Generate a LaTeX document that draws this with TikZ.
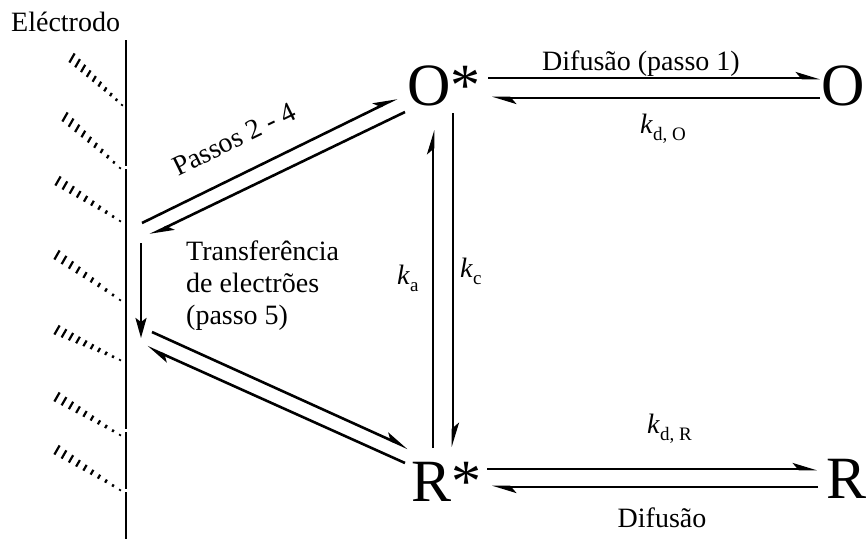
\documentclass[tikz,border=0pt]{standalone}
\usepackage{fontspec}
\setmainfont{Liberation Serif}
\usetikzlibrary{arrows.meta}
\begin{document}
\begin{tikzpicture}[x=1pt,y=-1pt,
  harp/.style={line width=2.6pt,-{Stealth[left,length=20pt,width=12pt,inset=5pt]}},
  fullarrow/.style={line width=2.6pt,-{Stealth[length=20pt,width=11pt,inset=4pt]}},
  species/.style={font=\fontsize{60}{62}\selectfont,inner sep=0pt,anchor=base west},
  lbl/.style={font=\fontsize{28}{32}\selectfont,inner sep=0pt},
  electrode/.style={line width=2pt},
  hatch/.style={line width=2.2pt}]
\fill[white] (0,0) rectangle (868,539);
\useasboundingbox (0,0) rectangle (868,539);
% species
\node[species] (Os) at (407,105) {O*};
\node[species] (O)  at (821,105) {O};
\node[species] (Rs) at (411,501) {R*};
\node[species] (R)  at (826,498) {R};
% electrode
\draw[electrode] (126,40) -- (126,166) (126,169) -- (126,429) (126,432) -- (126,489) (126,492) -- (126,539);
\foreach \sx/\sy/\ex/\ey in {72/58/122/105, 65/117/120/168, 58/181/120/221, 57/255/120/300, 57/330/120/360, 57/397/120/435, 57/450/120/490}{
  \foreach \i in {0,...,9}{
    \pgfmathsetmacro{\t}{\i/9}
    \pgfmathsetmacro{\px}{\sx+\t*(\ex-\sx)}
    \pgfmathsetmacro{\py}{\sy+\t*(\ey-\sy)}
    \pgfmathsetmacro{\L}{10.5-8.8*\t}
    \draw[hatch] ({\px-0.25*\L},{\py+0.433*\L}) -- ({\px+0.25*\L},{\py-0.433*\L});
  }
}
% connector end points
\coordinate (OsE1) at (488,78);  \coordinate (OW1) at (820,78);
\coordinate (OW2)  at (820,98);  \coordinate (OsE2) at (492,98);
\coordinate (RsE1) at (487,469); \coordinate (RW1) at (817,469);
\coordinate (RW2)  at (818,487); \coordinate (RsE2) at (492,487);
\coordinate (RsN1) at (433,448); \coordinate (OsS1) at (433,130);
\coordinate (OsS2) at (453,113); \coordinate (RsN2) at (453,447);
\coordinate (El1) at (142,223);  \coordinate (OsW1) at (397,98);
\coordinate (OsW2) at (405,112); \coordinate (El2) at (150,235);
\coordinate (El3) at (152,332);  \coordinate (RsW1) at (408,448);
\coordinate (RsW2) at (405,463); \coordinate (El4) at (147,347);
\coordinate (ElT) at (141,243);  \coordinate (ElB) at (141,338);
% arrows
\draw[harp] (OsE1) -- (OW1);
\draw[harp] (OW2) -- (OsE2);
\draw[harp] (RsE1) -- (RW1);
\draw[harp] (RW2) -- (RsE2);
\draw[harp] (RsN1) -- (OsS1);
\draw[harp] (OsS2) -- (RsN2);
\draw[harp] (El1) -- (OsW1);
\draw[harp] (OsW2) -- (El2);
\draw[harp] (El3) -- (RsW1);
\draw[harp] (RsW2) -- (El4);
\draw[fullarrow] (ElT) -- (ElB);
% labels
\node[lbl,anchor=base west] (el) at (11,31) {Eléctrodo};
\node[lbl,anchor=base] (dif1) at (641,70) {Difusão (passo 1)};
\node[lbl,anchor=base west] (kdo) at (640,133) {\textit{k}{\fontsize{19}{20}\selectfont\raisebox{-7pt}{d, O}}};
\node[lbl,anchor=base west] (kdr) at (647,433) {\textit{k}{\fontsize{19}{20}\selectfont\raisebox{-7pt}{d, R}}};
\node[lbl,anchor=base] (dif2) at (662,527) {Difusão};
\node[lbl,anchor=base west] (ka) at (397,284) {\textit{k}{\fontsize{19}{20}\selectfont\raisebox{-7pt}{a}}};
\node[lbl,anchor=base west] (kc) at (460,277) {\textit{k}{\fontsize{19}{20}\selectfont\raisebox{-7pt}{c}}};
\node[lbl,rotate=26] (passos) at (234,139) {Passos 2 - 4};
\node[lbl,anchor=north west,align=left] (transf) at (186,241) {Transferência\\de electrões\\(passo 5)};
\end{tikzpicture}
\end{document}
